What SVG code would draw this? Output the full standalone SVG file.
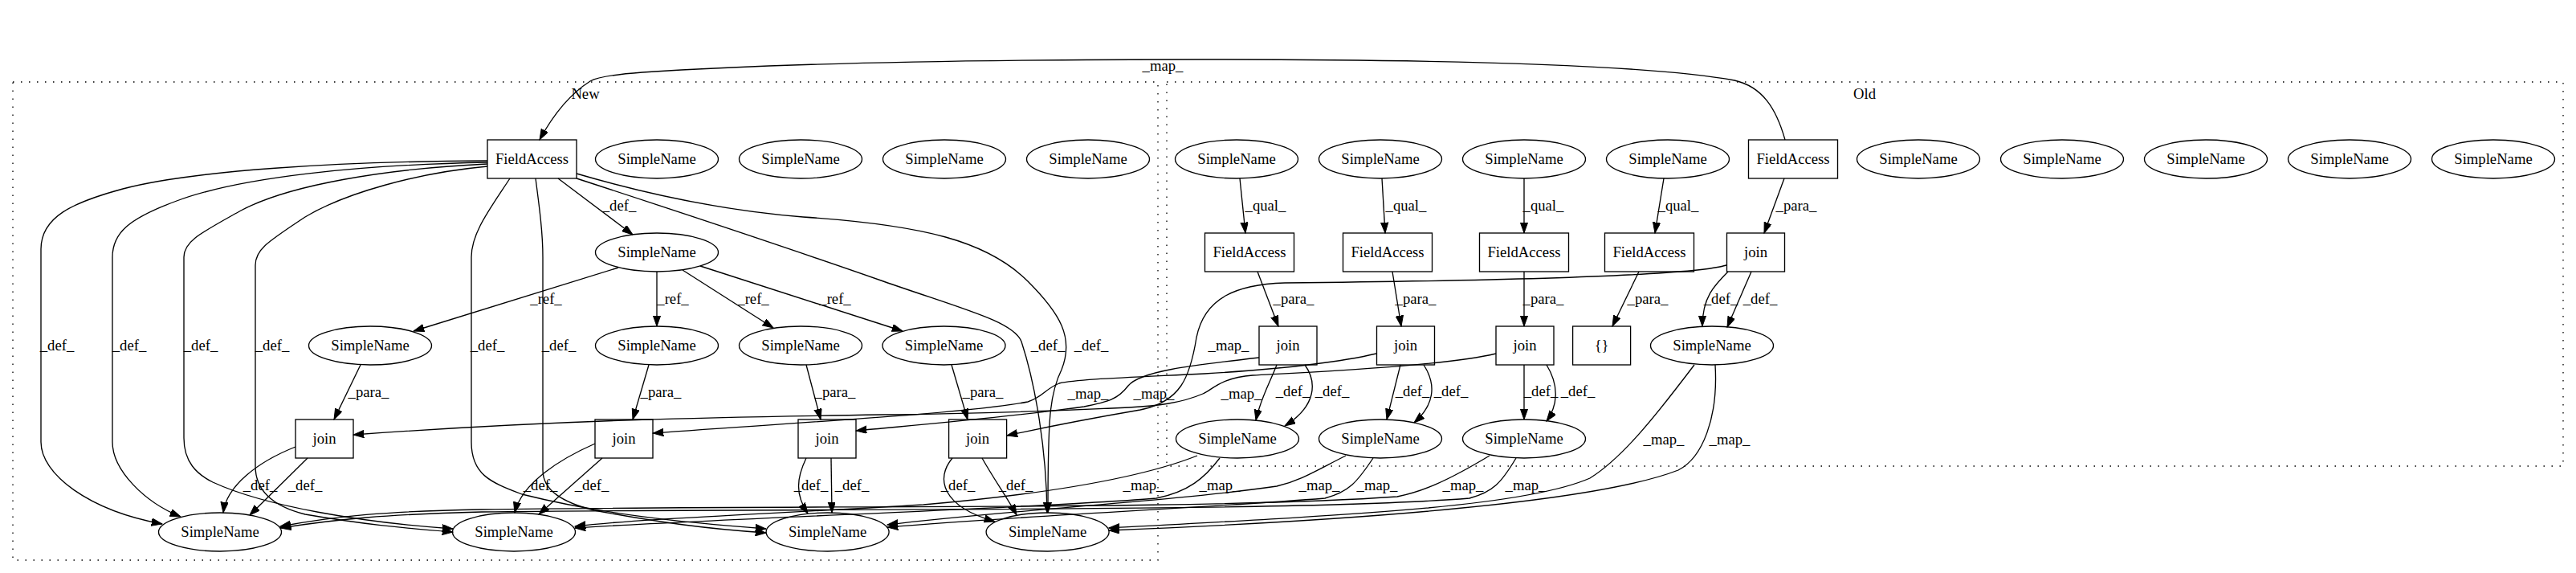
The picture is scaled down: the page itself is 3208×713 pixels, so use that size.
<svg xmlns="http://www.w3.org/2000/svg" width="3208" height="713" viewBox="0 0 3208 713">
<style>
text{font-family:"Liberation Serif","Times New Roman",serif;font-size:18.67px;text-anchor:middle;fill:#000}
.n ellipse,.n rect{fill:none;stroke:#000;stroke-width:1.33}
.c{fill:none;stroke:#000;stroke-width:1.33;stroke-dasharray:1.5,8.5}
#edges path{fill:none;stroke:#000;stroke-width:1.33;marker-end:url(#ah)}
</style>
<defs>
<marker id="ah" markerUnits="userSpaceOnUse" markerWidth="14" markerHeight="10" refX="13.3" refY="4.67" orient="auto"><path d="M0,0L13.3,4.67L0,9.33z" fill="#000" stroke="#000" stroke-width="1"/></marker>
</defs>
<rect width="3208" height="713" fill="#fff"/>
<g id="cluster_new"><rect class="c" x="16" y="102" width="1426" height="595"/><text x="729" y="123">New</text></g>
<g id="cluster_old"><rect class="c" x="1453" y="102" width="1739" height="478"/><text x="2322" y="123">Old</text></g>

<g id="edges">
<g><path d="M2223,174 C2212,135 2195,108 2160,100 C2050,80 1800,74 1500,74 C1200,74 950,80 800,90 C760,93 742,97 735,101 C705,120 685,150 672,174"/><text x="1448" y="88">_map_</text></g>
<g><path d="M695,222 L788,292"/><text x="771" y="262">_def_</text></g>
<g><path d="M607,200 C420,201 240,212 153,235 C90,252 51,270 51,310 L51,550 C51,590 110,635 202,652"/><text x="71" y="436">_def_</text></g>
<g><path d="M607,202 C450,205 300,220 220,250 C160,272 140,290 140,320 L140,550 C140,585 180,625 225,643"/><text x="161" y="436">_def_</text></g>
<g><path d="M607,204 C480,210 360,230 300,262 C250,290 229,300 229,320 L229,545 C229,575 245,590 265,600 C330,630 450,650 564,658"/><text x="250" y="436">_def_</text></g>
<g><path d="M607,207 C520,215 430,240 380,270 C335,300 318,310 318,330 L318,580 C318,610 340,630 380,640 C450,652 500,657 564,662"/><text x="339" y="436">_def_</text></g>
<g><path d="M635,222 C610,260 587,290 587,320 L587,550 C587,590 610,600 650,615 C750,640 850,650 954,658"/><text x="607" y="436">_def_</text></g>
<g><path d="M667,222 C672,260 676,290 676,320 L676,585 C676,610 700,625 740,635 C820,650 880,658 954,663"/><text x="696" y="436">_def_</text></g>
<g><path d="M718,216 C800,240 900,262 1000,270 C1150,280 1230,300 1280,350 C1320,390 1338,420 1322,460 C1307,490 1305,520 1305,638"/><text x="1359" y="436">_def_</text></g>
<g><path d="M718,222 C850,265 1000,315 1100,350 C1200,385 1262,400 1272,425 C1290,480 1303,560 1304,638"/><text x="1305" y="436">_def_</text></g>
<g><path d="M770,333 L515,412"/><text x="680" y="378">_ref_</text></g>
<g><path d="M818,338 L818,406"/><text x="838" y="378">_ref_</text></g>
<g><path d="M850,336 L963,408"/><text x="938" y="378">_ref_</text></g>
<g><path d="M872,331 L1124,412"/><text x="1040" y="378">_ref_</text></g>
<g><path d="M449,454 L416,522"/><text x="459" y="494">_para_</text></g>
<g><path d="M808,454 L788,522"/><text x="823" y="494">_para_</text></g>
<g><path d="M1004,454 L1022,522"/><text x="1040" y="494">_para_</text></g>
<g><path d="M1185,454 L1205,522"/><text x="1224" y="494">_para_</text></g>
<g><path d="M368,556 C320,575 282,605 278,638"/><text x="324" y="610">_def_</text></g>
<g><path d="M383,570 L311,641"/><text x="380" y="610">_def_</text></g>
<g><path d="M741,552 C700,570 650,600 641,638"/><text x="673" y="610">_def_</text></g>
<g><path d="M750,570 L671,640"/><text x="737" y="610">_def_</text></g>
<g><path d="M1004,570 C992,595 990,615 1006,639"/><text x="1010" y="610">_def_</text></g>
<g><path d="M1035,570 L1036,638"/><text x="1061" y="610">_def_</text></g>
<g><path d="M1186,570 C1165,595 1172,630 1239,649"/><text x="1193" y="610">_def_</text></g>
<g><path d="M1223,570 C1240,600 1255,620 1266,641"/><text x="1265" y="610">_def_</text></g>
<g><path d="M1544,222 L1551,290"/><text x="1576" y="262">_qual_</text></g>
<g><path d="M1721,222 L1725,290"/><text x="1751" y="262">_qual_</text></g>
<g><path d="M1898,222 L1898,290"/><text x="1922" y="262">_qual_</text></g>
<g><path d="M2072,222 L2061,290"/><text x="2090" y="262">_qual_</text></g>
<g><path d="M2222,222 L2197,290"/><text x="2237" y="262">_para_</text></g>
<g><path d="M1566,338 L1592,406"/><text x="1611" y="378">_para_</text></g>
<g><path d="M1734,338 L1745,406"/><text x="1763" y="378">_para_</text></g>
<g><path d="M1898,338 L1898,406"/><text x="1922" y="378">_para_</text></g>
<g><path d="M2041,338 L2008,406"/><text x="2052" y="378">_para_</text></g>
<g><path d="M2181,338 L2151,407"/><text x="2192" y="378">_def_</text></g>
<g><path d="M2152,338 C2135,355 2120,370 2120,406"/><text x="2143" y="378">_def_</text></g>
<g><path d="M1590,454 C1582,475 1570,495 1564,523"/><text x="1610" y="493">_def_</text></g>
<g><path d="M1625,454 C1640,475 1640,505 1600,530"/><text x="1659" y="493">_def_</text></g>
<g><path d="M1744,454 L1727,522"/><text x="1759" y="493">_def_</text></g>
<g><path d="M1773,454 C1790,480 1785,505 1761,526"/><text x="1807" y="493">_def_</text></g>
<g><path d="M1898,454 L1898,522"/><text x="1919" y="493">_def_</text></g>
<g><path d="M1926,454 C1942,480 1940,505 1926,524"/><text x="1965" y="493">_def_</text></g>
<g><path d="M2150,330 C2100,345 1800,350 1600,352 C1540,354 1500,370 1490,420 C1482,470 1470,500 1420,510 C1350,522 1300,532 1254,542"/><text x="1530" y="436">_map_</text></g>
<g><path d="M1863,440 C1800,455 1650,462 1560,467 C1520,470 1510,485 1498,490 C1470,502 1440,505 1406,507 C1300,512 1200,515 1100,516 C900,519 700,522 440,541"/><text x="1546" y="496">_map_</text></g>
<g><path d="M1714,440 C1650,455 1550,462 1500,465 C1400,470 1340,472 1319,477 C1300,485 1300,493 1280,500 C1200,515 1000,525 813,539"/><text x="1355" y="496">_map_</text></g>
<g><path d="M1568,445 C1480,455 1420,462 1405,480 C1392,497 1380,500 1350,506 C1250,520 1150,528 1066,536"/><text x="1437" y="496">_map_</text></g>
<g><path d="M1491,567 C1420,595 1300,615 1150,628 C950,640 800,645 716,655"/><text x="1424" y="610">_map_</text></g>
<g><path d="M1519,570 C1500,595 1480,612 1440,620 C1300,632 900,645 716,657"/><text x="1519" y="610">_map_</text></g>
<g><path d="M1676,567 C1640,585 1620,598 1590,605 C1450,625 1250,635 1105,653"/><text x="1643" y="610">_map_</text></g>
<g><path d="M1710,570 C1690,600 1680,612 1650,620 C1500,632 1300,640 1105,656"/><text x="1715" y="610">_map_</text></g>
<g><path d="M1855,567 C1800,600 1770,612 1740,618 C1500,635 1000,628 600,634 C480,636 420,642 349,655"/><text x="1822" y="610">_map_</text></g>
<g><path d="M1888,570 C1870,600 1860,612 1830,620 C1600,638 1000,632 600,637 C480,640 420,646 349,657"/><text x="1900" y="610">_map_</text></g>
<g><path d="M2110,454 C2060,520 2020,570 1980,595 C1900,630 1700,640 1381,657"/><text x="2072" y="553">_map_</text></g>
<g><path d="M2136,454 C2140,520 2120,570 2090,585 C2000,620 1750,645 1381,660"/><text x="2154" y="553">_map_</text></g>
</g>

<g id="n_new_fa" class="n"><rect x="607" y="174" width="111" height="48"/><text x="662.5" y="204">FieldAccess</text></g>
<g id="n_new_s1" class="n"><ellipse cx="818" cy="198" rx="76.5" ry="24"/><text x="818" y="204">SimpleName</text></g>
<g id="n_new_s2" class="n"><ellipse cx="997" cy="198" rx="76.5" ry="24"/><text x="997" y="204">SimpleName</text></g>
<g id="n_new_s3" class="n"><ellipse cx="1176" cy="198" rx="76.5" ry="24"/><text x="1176" y="204">SimpleName</text></g>
<g id="n_new_s4" class="n"><ellipse cx="1355" cy="198" rx="76.5" ry="24"/><text x="1355" y="204">SimpleName</text></g>
<g id="n_new_sref" class="n"><ellipse cx="818" cy="314" rx="76.5" ry="24"/><text x="818" y="320">SimpleName</text></g>
<g id="n_new_r3a" class="n"><ellipse cx="461" cy="430" rx="76.5" ry="24"/><text x="461" y="436">SimpleName</text></g>
<g id="n_new_r3b" class="n"><ellipse cx="818" cy="430" rx="76.5" ry="24"/><text x="818" y="436">SimpleName</text></g>
<g id="n_new_r3c" class="n"><ellipse cx="997" cy="430" rx="76.5" ry="24"/><text x="997" y="436">SimpleName</text></g>
<g id="n_new_r3d" class="n"><ellipse cx="1175.5" cy="430" rx="76.5" ry="24"/><text x="1175.5" y="436">SimpleName</text></g>
<g id="n_new_j1" class="n"><rect x="368" y="522" width="72" height="48"/><text x="404" y="552">join</text></g>
<g id="n_new_j2" class="n"><rect x="741" y="522" width="72" height="48"/><text x="777" y="552">join</text></g>
<g id="n_new_j3" class="n"><rect x="994" y="522" width="72" height="48"/><text x="1030" y="552">join</text></g>
<g id="n_new_j4" class="n"><rect x="1181.6" y="522" width="72" height="48"/><text x="1217.6" y="552">join</text></g>
<g id="n_new_b1" class="n"><ellipse cx="274" cy="662" rx="76.5" ry="24"/><text x="274" y="668">SimpleName</text></g>
<g id="n_new_b2" class="n"><ellipse cx="640" cy="662" rx="76.5" ry="24"/><text x="640" y="668">SimpleName</text></g>
<g id="n_new_b3" class="n"><ellipse cx="1030.6" cy="662" rx="76.5" ry="24"/><text x="1030.6" y="668">SimpleName</text></g>
<g id="n_new_b4" class="n"><ellipse cx="1304.6" cy="662" rx="76.5" ry="24"/><text x="1304.6" y="668">SimpleName</text></g>

<g id="n_old_q1" class="n"><ellipse cx="1540" cy="198" rx="76.5" ry="24"/><text x="1540" y="204">SimpleName</text></g>
<g id="n_old_q2" class="n"><ellipse cx="1719" cy="198" rx="76.5" ry="24"/><text x="1719" y="204">SimpleName</text></g>
<g id="n_old_q3" class="n"><ellipse cx="1898" cy="198" rx="76.5" ry="24"/><text x="1898" y="204">SimpleName</text></g>
<g id="n_old_q4" class="n"><ellipse cx="2077" cy="198" rx="76.5" ry="24"/><text x="2077" y="204">SimpleName</text></g>
<g id="n_old_fa" class="n"><rect x="2177.5" y="174" width="111" height="48"/><text x="2233" y="204">FieldAccess</text></g>
<g id="n_old_s1" class="n"><ellipse cx="2389" cy="198" rx="76.5" ry="24"/><text x="2389" y="204">SimpleName</text></g>
<g id="n_old_s2" class="n"><ellipse cx="2568" cy="198" rx="76.5" ry="24"/><text x="2568" y="204">SimpleName</text></g>
<g id="n_old_s3" class="n"><ellipse cx="2747" cy="198" rx="76.5" ry="24"/><text x="2747" y="204">SimpleName</text></g>
<g id="n_old_s4" class="n"><ellipse cx="2926" cy="198" rx="76.5" ry="24"/><text x="2926" y="204">SimpleName</text></g>
<g id="n_old_s5" class="n"><ellipse cx="3105" cy="198" rx="76.5" ry="24"/><text x="3105" y="204">SimpleName</text></g>
<g id="n_old_fa1" class="n"><rect x="1500.5" y="290" width="111" height="48"/><text x="1556" y="320">FieldAccess</text></g>
<g id="n_old_fa2" class="n"><rect x="1672.5" y="290" width="111" height="48"/><text x="1728" y="320">FieldAccess</text></g>
<g id="n_old_fa3" class="n"><rect x="1842.5" y="290" width="111" height="48"/><text x="1898" y="320">FieldAccess</text></g>
<g id="n_old_fa4" class="n"><rect x="1998.5" y="290" width="111" height="48"/><text x="2054" y="320">FieldAccess</text></g>
<g id="n_old_j0" class="n"><rect x="2150.5" y="290" width="72" height="48"/><text x="2186.5" y="320">join</text></g>
<g id="n_old_j1" class="n"><rect x="1568" y="406" width="72" height="48"/><text x="1604" y="436">join</text></g>
<g id="n_old_j2" class="n"><rect x="1714.5" y="406" width="72" height="48"/><text x="1750.5" y="436">join</text></g>
<g id="n_old_j3" class="n"><rect x="1863" y="406" width="72" height="48"/><text x="1899" y="436">join</text></g>
<g id="n_old_br" class="n"><rect x="1958.6" y="406" width="72" height="48"/><text x="1994.6" y="436">{}</text></g>
<g id="n_old_sj" class="n"><ellipse cx="2132" cy="430" rx="76.5" ry="24"/><text x="2132" y="436">SimpleName</text></g>
<g id="n_old_r4a" class="n"><ellipse cx="1541" cy="546" rx="76.5" ry="24"/><text x="1541" y="552">SimpleName</text></g>
<g id="n_old_r4b" class="n"><ellipse cx="1719" cy="546" rx="76.5" ry="24"/><text x="1719" y="552">SimpleName</text></g>
<g id="n_old_r4c" class="n"><ellipse cx="1898" cy="546" rx="76.5" ry="24"/><text x="1898" y="552">SimpleName</text></g>
</svg>
